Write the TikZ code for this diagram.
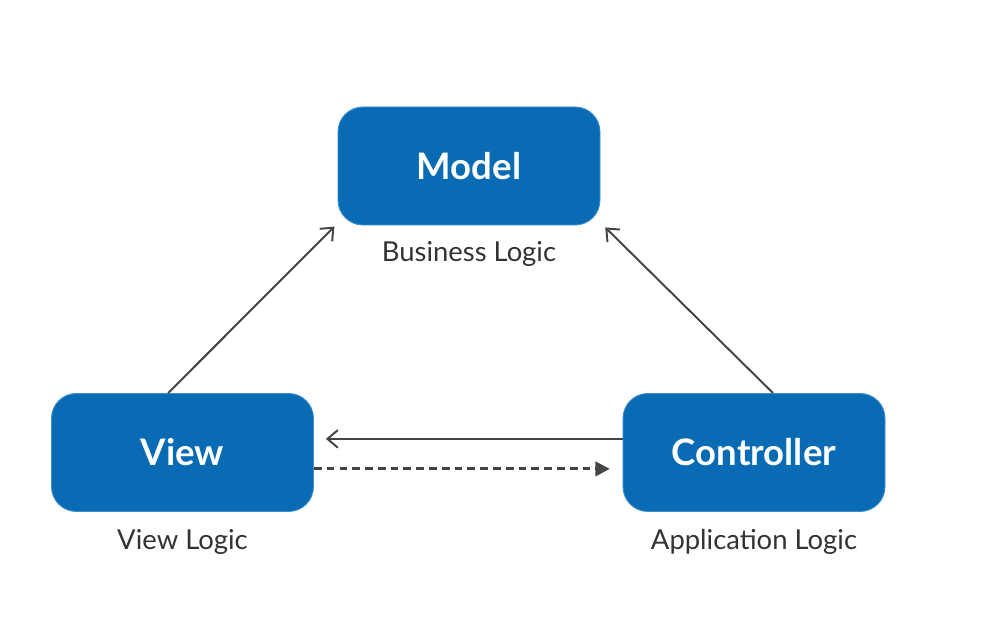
\documentclass[tikz,border=0pt]{standalone}
\usepackage{fontspec}
\setmainfont{Lato}
\usetikzlibrary{arrows.meta}
\definecolor{boxblue}{HTML}{0A6BB5}
\definecolor{boxedge}{HTML}{3D8FD0}
\definecolor{linegray}{HTML}{444444}
\definecolor{labelgray}{HTML}{333333}

\begin{document}
\begin{tikzpicture}[
		mvcbox/.style={draw=boxedge, line width=0.6pt, fill=boxblue, rounded corners=0.62cm,
			minimum width=6.55cm, minimum height=2.95cm, text=white,
			font=\fontsize{26}{31}\selectfont\bfseries},
		logic/.style={text=labelgray, font=\fontsize{19.5}{23}\selectfont},
		link/.style={draw=linegray, line width=1.4pt, -{Straight Barb[length=2.6mm,width=4.4mm,line width=1.4pt]}},
		dashlink/.style={draw=linegray, line width=2.1pt, dash pattern=on 5.5pt off 3.6pt,
			-{Triangle[length=3.6mm,width=3.6mm]}}
	]
	%%%%% START %%%%%
	
	\useasboundingbox (0, 0) rectangle (25.1, 15.625);
	
	\node[mvcbox] (model) at (11.725, 11.475) {Model};
	\node[mvcbox] (view) at (4.5625, 4.3125) {View};
	\node[mvcbox] (controller) at (18.85, 4.3125) {Controller};
	
	\node[logic] (modellogic) at (11.725, 9.27) {Business Logic};
	\node[logic] (viewlogic) at (4.5625, 2.07) {View Logic};
	\node[logic] (controllerlogic) at (18.85, 2.07) {Application Logic};
	
	\draw[link] ([xshift=-0.36cm]view.north) -- ([xshift=-0.08cm, yshift=-0.03cm]model.south west);
	\draw[link] ([xshift=0.475cm]controller.north) -- ([xshift=0.12cm, yshift=-0.05cm]model.south east);
	
	\draw[link] ([yshift=0.34cm]controller.west) -- ([xshift=0.3cm, yshift=0.34cm]view.east);
	\draw[dashlink] ([yshift=-0.41cm]view.east) -- ([xshift=-0.32cm, yshift=-0.41cm]controller.west);
	
	%%%%% END %%%%%
\end{tikzpicture}
\end{document}
